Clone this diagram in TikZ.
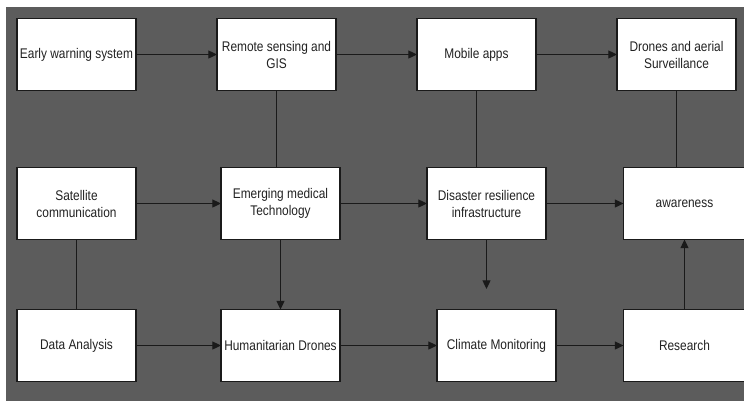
\documentclass[tikz,border=0pt]{standalone}
\usepackage{fontspec}
\setmainfont{Liberation Sans}[FakeStretch=0.85]
\usetikzlibrary{arrows.meta}
\definecolor{bggray}{HTML}{5C5C5C}
\definecolor{ink}{HTML}{1A1A1A}
\definecolor{txt}{HTML}{222222}
\begin{document}
\begin{tikzpicture}[x=0.75pt,y=-0.75pt,
  box/.style={draw=ink, fill=white, line width=1pt, outer sep=0pt,
    minimum width=89.25pt, minimum height=54pt, inner sep=1pt,
    align=center, text=txt, font=\fontsize{10.5}{12.75}\selectfont},
  wbox/.style={box, minimum width=91.5pt},
  conn/.style={draw=ink, line width=0.9pt},
  arr/.style={conn, -{Triangle[length=6.5pt,width=6pt]}}]
\clip (0,0) rectangle (744,401);
\fill[white] (0,0) rectangle (744,401);
\fill[bggray] (6,7) rectangle (744,401);
% top row
\node[box] (ews) at (76.5,54.5) {Early warning system};
\node[box] (rs)  at (276.5,54.5) {Remote sensing and\\GIS};
\node[box] (ma)  at (476.5,54.5) {Mobile apps};
\node[box] (dr)  at (676.5,54.5) {Drones and aerial\\Surveillance};
% middle row
\node[box] (sat) at (76.5,203.5) {Satellite\\communication};
\node[box] (emt) at (280.5,203.5) {Emerging medical\\Technology};
\node[box] (dri) at (486.5,203.5) {Disaster resilience\\infrastructure};
\node[wbox] (aw) at (684.5,203.5) {awareness};
% bottom row
\node[box] (da) at (76.5,345.5) {Data Analysis};
\node[box] (hd) at (280.5,345.5) {Humanitarian Drones};
\node[box] (cm) at (496.5,345.5) {Climate Monitoring};
\node[wbox] (re) at (684.5,345.5) {Research};
\coordinate (free) at (486.5,289);
% connectors
\draw[arr] (ews) -- (rs);
\draw[arr] (rs) -- (ma);
\draw[arr] (ma) -- (dr);
\draw[conn] (rs.south) -- (rs.south |- emt.north);
\draw[conn] (ma.south) -- (ma.south |- dri.north);
\draw[conn] (dr.south) -- (dr.south |- aw.north);
\draw[arr] (sat) -- (emt);
\draw[arr] (emt) -- (dri);
\draw[arr] (dri) -- (aw);
\draw[conn] (sat) -- (da);
\draw[arr] (emt) -- (hd);
\draw[arr] (dri) -- (free);
\draw[arr] (da) -- (hd);
\draw[arr] (hd) -- (cm);
\draw[arr] (cm) -- (re);
\draw[arr] (re) -- (aw);
\end{tikzpicture}
\end{document}
